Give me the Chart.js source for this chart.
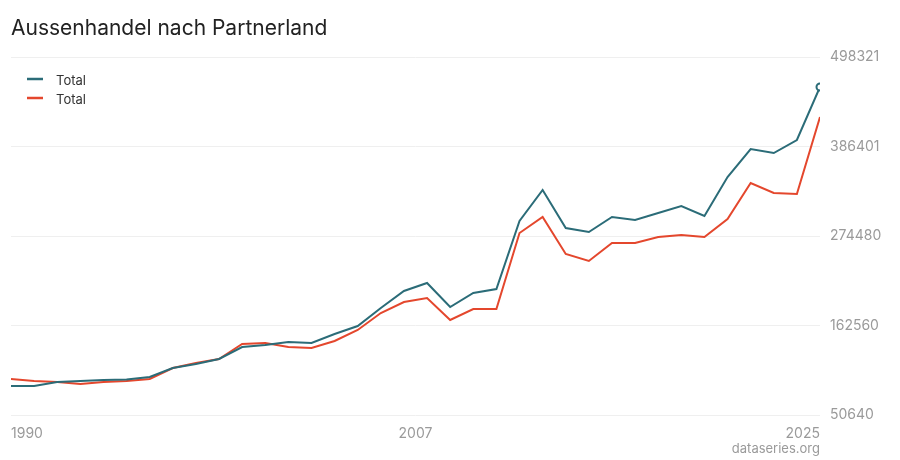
<!DOCTYPE html>
<html>
<head>
<meta charset="utf-8">
<script src="https://cdn.jsdelivr.net/npm/chart.js@4/dist/chart.umd.min.js"></script>
<style>
  html, body { margin: 0; padding: 0; background: #fff; }
  #wrap { width: 900px; height: 460px; position: relative; }
</style>
</head>
<body>
<div id="wrap"><canvas id="myChart"></canvas></div>
<script>
        // years on the x axis
        const years = [];
        for (let y = 1990; y <= 2025; y++) years.push(y);

        // first, middle and last position of the axis
        const xTicks = [1990, 2007.5, 2025];
        const yTicks = [50640, 162560, 274480, 386401, 498321];

        // values
        const totalTeal = [86905, 86905, 91907, 93157, 94408, 95033, 98159, 109414, 114416, 120668,
            135674, 138175, 141927, 140676, 151931, 161935, 184444, 205702, 215706, 185694,
            203201, 208203, 293237, 332003, 284484, 279482, 298239, 294488, 303241, 311995,
            299490, 348259, 383273, 378271, 394528, 460804];
        const totalRed = [95658, 93157, 91907, 89406, 91907, 93157, 95658, 109414, 115666, 120668,
            139426, 140676, 135674, 134424, 143177, 156933, 178191, 191947, 196949, 169438,
            183193, 183193, 278231, 298239, 251971, 243217, 265726, 265726, 273229, 275730,
            273229, 295738, 340756, 328251, 327001, 423289];

        const teal = "#2b6c78";
        const red = "#e4472d";
        const grey = "#9a9a9a";

        function toPoints(vals) {
            return vals.map((v, i) => ({ x: years[i], y: v }));
        }

        // title, legend and source note
        const extras = {
            id: "extras",
            afterDraw(chart) {
                const c = chart.ctx;
                c.save();
                c.textBaseline = "alphabetic";
                c.fillStyle = "#222";
                c.font = "21px Inter";
                c.fillText("Aussenhandel nach Partnerland", 11, 35);

                chart.data.datasets.forEach((ds, i) => {
                    const y = 79 + i * 19;
                    c.strokeStyle = ds.borderColor;
                    c.lineWidth = 2.5;
                    c.beginPath();
                    c.moveTo(27, y);
                    c.lineTo(43, y);
                    c.stroke();
                    c.fillStyle = "#333";
                    c.font = "13px Inter";
                    c.fillText(ds.label, 56, y + 6);
                });

                c.fillStyle = grey;
                c.font = "13px Inter";
                c.textAlign = "right";
                c.fillText("dataseries.org", 820, 453);
                c.restore();
            }
        };

        const ctx = document.getElementById("myChart");
        new Chart(ctx, {
            type: "line",
            data: {
                datasets: [{
                    label: "Total",
                    data: toPoints(totalTeal),
                    borderColor: teal,
                    backgroundColor: "#fff",
                    borderWidth: 2,
                    pointRadius: (c) => c.dataIndex === years.length - 1 ? 3.5 : 0,
                    pointBorderWidth: 2,
                    pointBorderColor: teal,
                    pointBackgroundColor: "#fff",
                    clip: 0,
                    tension: 0
                }, {
                    label: "Total",
                    data: toPoints(totalRed),
                    borderColor: red,
                    backgroundColor: red,
                    borderWidth: 2,
                    pointRadius: 0,
                    clip: 0,
                    tension: 0
                }]
            },
            options: {
                responsive: true,
                maintainAspectRatio: false,
                animation: false,
                layout: { padding: { left: 11, top: 57, right: 0, bottom: 0 } },
                plugins: {
                    legend: { display: false },
                    tooltip: { enabled: false }
                },
                scales: {
                    x: {
                        type: "linear",
                        min: years[0],
                        max: years[years.length - 1],
                        grid: { display: false },
                        border: { display: false },
                        afterBuildTicks: (s) => { s.ticks = xTicks.map(v => ({ value: v })); },
                        afterFit: (s) => { s.height = 45; },
                        ticks: {
                            autoSkip: false,
                            maxRotation: 0,
                            align: "inner",
                            color: grey,
                            font: { family: "Inter", size: 14 },
                            padding: 2,
                            callback: (v) => String(Math.floor(v))
                        }
                    },
                    y: {
                        position: "right",
                        min: yTicks[0],
                        max: yTicks[yTicks.length - 1],
                        afterBuildTicks: (s) => { s.ticks = yTicks.map(v => ({ value: v })); },
                        afterFit: (s) => { s.width = 80; },
                        grid: { color: "#efefef", lineWidth: 1, drawTicks: false },
                        border: { display: false },
                        ticks: {
                            color: grey,
                            padding: 10,
                            font: { family: "Inter", size: 14 },
                            callback: (v) => String(v)
                        }
                    }
                }
            },
            plugins: [extras]
        });
</script>
</body>
</html>
